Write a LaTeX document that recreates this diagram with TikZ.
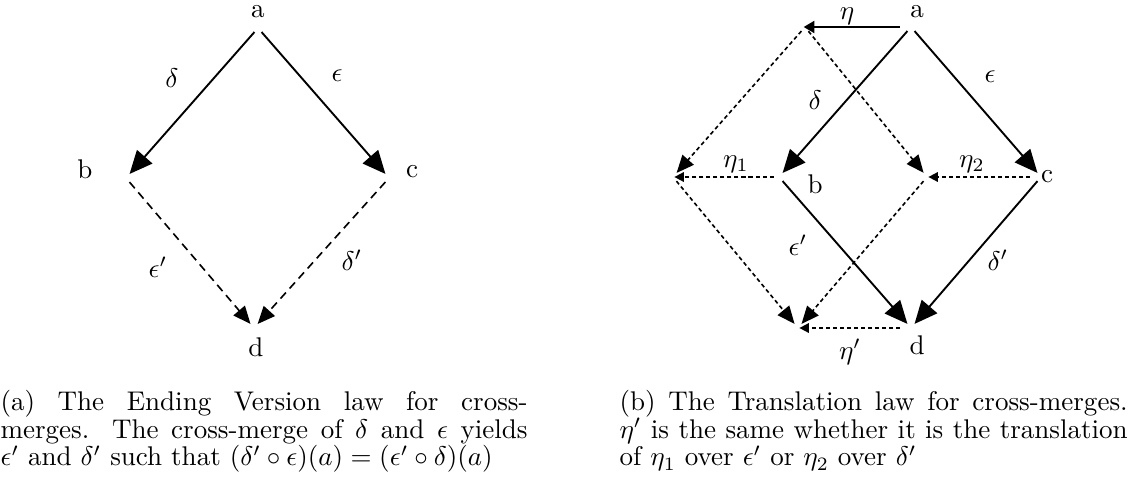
\documentclass[tikz,border=0pt]{standalone}
\usepackage{amsmath,amssymb}
\usepackage{tikz}
\usetikzlibrary{arrows.meta}

\tikzset{
  vtx/.style={circle, inner sep=0pt, minimum size=3.6pt},
  solidarr/.style={line width=0.7pt, -{Triangle[length=8.5pt,width=7.5pt]}},
  dasharr/.style={line width=0.6pt, dash pattern=on 3pt off 2pt, -{Triangle[length=6.5pt,width=5.5pt]}},
  dotarr/.style={line width=0.6pt, dash pattern=on 1.5pt off 1.1pt, -{Triangle[length=6.5pt,width=5.5pt]}},
  transarr/.style={line width=0.6pt, dash pattern=on 1.5pt off 1.1pt, -{Triangle[length=3.5pt,width=3.5pt]}},
  etaarr/.style={line width=0.7pt, -{Triangle[length=4pt,width=4.5pt]}},
  capbox/.style={inner sep=0pt, anchor=north west, align=justify, font=\fontsize{10pt}{10.2pt}\selectfont},
}

\begin{document}
\begin{tikzpicture}[x=0.37pt, y=-0.37pt]
		\useasboundingbox (0,0) rectangle (1129,483);
		
		% (a) corners of the diamond
		\node[vtx] (a1) at (258,28) {};
		\node[vtx] (b1) at (126,178) {};
		\node[vtx] (c1) at (389,178) {};
		\node[vtx] (d1) at (254,328) {};
		\node (la1) at (258,12) {a};
		\node (lb1) at (85,169) {b};
		\node (lc1) at (412,172) {c};
		\node (ld1) at (256,347) {d};
		
		% (a) the two merges and the cross-merge
		\draw[solidarr] (a1) -- (b1);
		\draw[solidarr] (a1) -- (c1);
		\draw[dasharr] (b1) -- (d1);
		\draw[dasharr] (c1) -- (d1);
		\node (del1) at (172,78) {$\delta$};
		\node (eps1) at (337,76) {$\epsilon$};
		\node (epsp1) at (158,267) {$\epsilon'$};
		\node (delp1) at (352,260) {$\delta'$};
		
		% (b) corners of the diamond and of its translated copy
		\node[vtx] (a2) at (911,27) {};
		\node[vtx] (b2) at (779,177) {};
		\node[vtx] (c2) at (1041,177) {};
		\node[vtx] (d2) at (911,328) {};
		\node[vtx] (a3) at (805,27) {};
		\node[vtx] (b3) at (673,177) {};
		\node[vtx] (c3) at (927,177) {};
		\node[vtx] (d3) at (798,328) {};
		\node (la2) at (917,12) {a};
		\node (lb2) at (815,184) {b};
		\node (lc2) at (1047,177) {c};
		\node (ld2) at (917,345) {d};
		
		% (b) solid diamond
		\draw[solidarr] (a2) -- (b2);
		\draw[solidarr] (a2) -- (c2);
		\draw[solidarr] (b2) -- (d2);
		\draw[solidarr] (c2) -- (d2);
		\node (del2) at (815,100) {$\delta$};
		\node (eps2) at (990,77) {$\epsilon$};
		\node (epsp2) at (798,245) {$\epsilon'$};
		\node (delp2) at (998,260) {$\delta'$};
		
		% (b) translated diamond
		\draw[dotarr] (a3) -- (b3);
		\draw[dotarr] (a3) -- (c3);
		\draw[dotarr] (b3) -- (d3);
		\draw[dotarr] (c3) -- (d3);
		
		% (b) translations
		\draw[etaarr, shorten <=2pt, shorten >=-2.5pt] (a2) -- (a3);
		\draw[transarr, shorten >=-1.5pt] (b2) -- (b3);
		\draw[transarr, shorten <=2pt, shorten >=-1.5pt] (c2) -- (c3);
		\draw[transarr, shorten <=2pt, shorten >=-1.5pt] (d2) -- (d3);
		\node (eta) at (847,16) {$\eta$};
		\node (eta1) at (736,164) {$\eta_1$};
		\node (eta2) at (972,164) {$\eta_2$};
		\node (etap) at (850,352) {$\eta'$};
		
		% captions
		\node[capbox, text width=195pt] (capa) at (0,390) {(a) The Ending Version law for cross-\linebreak merges. The cross-merge of $\delta$ and $\epsilon$ yields\linebreak $\epsilon'$ and $\delta'$ such that $(\delta' \circ \epsilon)(a) = (\epsilon' \circ \delta)(a)$};
		\node[capbox, text width=188pt] (capb) at (619,390) {(b) The Translation law for cross-merges.\linebreak $\eta'$ is the same whether it is the translation\linebreak of $\eta_1$ over $\epsilon'$ or $\eta_2$ over $\delta'$};
	\end{tikzpicture}
\end{document}
